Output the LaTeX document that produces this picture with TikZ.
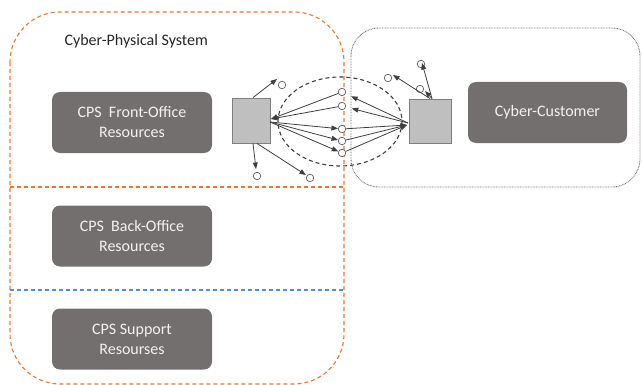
\documentclass[tikz,border=0pt]{standalone}
\usepackage{fontspec}
\setmainfont{Carlito}
\usetikzlibrary{arrows.meta}
\definecolor{boxgray}{HTML}{736F6E}
\definecolor{boxtext}{HTML}{F2F2F2}
\definecolor{sqfill}{HTML}{BFBFBF}
\definecolor{sqdraw}{HTML}{7F7F7F}
\definecolor{arrowgray}{HTML}{3F3F3F}
\definecolor{cpsorange}{HTML}{E8782E}
\definecolor{lineblue}{HTML}{4F8FD8}
\definecolor{zonegray}{HTML}{707070}
\tikzset{
  resbox/.style={fill=boxgray, text=boxtext, rounded corners=8pt,
    minimum width=160pt, minimum height=61pt, align=center,
    font=\fontsize{16}{20}\selectfont},
  agent/.style={fill=sqfill, draw=sqdraw, line width=0.9pt, inner sep=0pt},
  msg/.style={circle, draw=arrowgray!85, fill=white, line width=0.7pt,
    minimum size=7.5pt, inner sep=0pt},
  flow/.style={draw=arrowgray, line width=0.8pt,
    -{Triangle[length=6.5pt,width=5pt]}},
  orangedash/.style={draw=cpsorange, line width=1.1pt, dash pattern=on 4pt off 3pt},
}
\begin{document}
\begin{tikzpicture}[x=1pt,y=-1pt]
\useasboundingbox (0,0) rectangle (642,385);

% Cyber-customer zone
\draw[draw=zonegray, line width=0.9pt, dash pattern=on 0.8pt off 0.8pt, rounded corners=28pt]
  (351,28) rectangle (640,187);

% Cyber-physical system boundary and its layers
\draw[orangedash, rounded corners=50pt] (10,12) rectangle (344,384);
\draw[orangedash, line width=1.3pt] (10,187) -- (344,187);
\draw[draw=lineblue, line width=1.3pt, dash pattern=on 4pt off 3pt] (10,290) -- (344,290);

\node[anchor=west, text=black!85, font=\fontsize{16}{20}\selectfont] (title) at (61,41) {Cyber-Physical System};

\node[resbox] (front) at (132,122.5) {CPS\ \ Front-Office\\Resources};
\node[resbox] (back) at (132,236) {CPS\ \ Back-Office\\Resources};
\node[resbox] (support) at (132,339) {CPS Support\\Resourses};
\node[resbox, minimum width=159pt] (customer) at (547.5,112.5) {Cyber-Customer};

% Interaction area
\draw[draw=arrowgray, line width=1.1pt, dash pattern=on 4pt off 3pt] (340,121.5) ellipse [x radius=62, y radius=44.5];

% Interacting agents
\node[agent, minimum width=38pt, minimum height=45pt] (L) at (251,120.5) {};
\node[agent, minimum width=42pt, minimum height=44pt] (R) at (430,121) {};

% Exchanged messages
\node[msg] (m1) at (342,92) {};
\node[msg] (m2) at (342,106) {};
\node[msg] (m3) at (342,129) {};
\node[msg] (m4) at (342,141) {};
\node[msg] (m5) at (342,153) {};

\node[msg] (o1) at (282,85) {};
\node[msg] (o2) at (257,176) {};
\node[msg] (o3) at (310,178) {};
\node[msg] (p1) at (388,78) {};
\node[msg] (p2) at (421,64) {};
\node[msg] (p3) at (420,89) {};

\coordinate (t1) at (277,79);
\coordinate (t2) at (256,169);
\coordinate (t3) at (306,175);
\coordinate (t4) at (393,75);
\coordinate (t5) at (422,63);
\coordinate (t6) at (425,91);
\coordinate (Lout) at (270,122);
\coordinate (Lin) at (271,119);
\coordinate (Rout) at (408,123);
\coordinate (Rin) at (407,125);

% Left agent
\draw[flow] (L.north) ++(2,0) coordinate (ln) -- (t1);
\draw[flow] (L.south) ++(2,0) coordinate (ls) -- (t2);
\draw[flow] (L.south) ++(6,0) coordinate (ls2) -- (t3);
\draw[flow] (Lout) -- (m3);
\draw[flow] (Lout) -- (m4);
\draw[flow] (Lout) -- (m5);
\draw[flow] (m1) -- (Lin);
\draw[flow] (m2) -- (Lin);

% Right agent
\draw[flow, shorten >=6pt] (Rout) -- (m1);
\draw[flow, shorten >=6pt] (Rout) -- (m2);
\draw[flow] (m3) -- (Rin);
\draw[flow] (m4) -- (Rin);
\draw[flow] (m5) -- (Rin);
\draw[flow] (R.north) coordinate (rn) -- (t4);
\draw[flow] (R.north) ++(2,0) coordinate (rn2) -- (t5);
\draw[flow] (rn2) -- (t6);
\end{tikzpicture}
\end{document}
